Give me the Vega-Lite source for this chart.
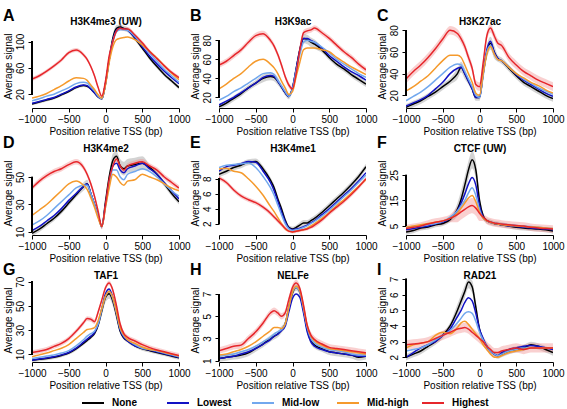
{
"$schema":"https://vega.github.io/schema/vega-lite/v6.json",
"padding":{"left":2,"top":8,"right":0,"bottom":0},
"bounds":"flush",
"config":{"view":{"stroke":null},"font":"Liberation Sans",
"axis":{"grid":false,"labelFontSize":10,"titleFontSize":10,"titleFontWeight":"normal","labelColor":"black","titleColor":"black","tickColor":"black","domainColor":"black","tickSize":4,"labelOverlap":false,"labelFlush":false},
"axisX":{"labelPadding":2,"titlePadding":2},
"axisY":{"labelAngle":-90,"labelAlign":"center","labelBaseline":"bottom","labelPadding":3,"titlePadding":2,"domain":false,"labelOverlap":false},
"title":{"anchor":"start","frame":"bounds","fontSize":16,"fontWeight":"bold","color":"black","offset":-8},
"legend":{"direction":"horizontal","title":null,"symbolType":"stroke","symbolSize":484,"symbolStrokeWidth":2,"labelFontSize":10,"labelFontWeight":"bold","labelColor":"black","labelOffset":7,"columns":5,"columnPadding":9,"gridAlign":"all","padding":0}},
"datasets":{"d":[
{"p":"A","x":-1000,"None":5,"Lowest":6,"Mid-low":10,"Mid-high":14,"Highest":43,"n0":3,"n1":7,"h0":40,"h1":46},
{"p":"A","x":-900,"None":8,"Lowest":9,"Mid-low":13,"Mid-high":17,"Highest":48,"n0":6,"n1":10,"h0":45,"h1":51},
{"p":"A","x":-800,"None":11,"Lowest":12,"Mid-low":17,"Mid-high":21,"Highest":55,"n0":9,"n1":13,"h0":52,"h1":58},
{"p":"A","x":-700,"None":14,"Lowest":15,"Mid-low":20,"Mid-high":27,"Highest":63,"n0":12,"n1":16,"h0":60,"h1":66},
{"p":"A","x":-600,"None":19,"Lowest":20,"Mid-low":25,"Mid-high":33,"Highest":72,"n0":17,"n1":21,"h0":69,"h1":75},
{"p":"A","x":-500,"None":24,"Lowest":25,"Mid-low":30,"Mid-high":40,"Highest":83,"n0":22,"n1":26,"h0":80,"h1":86},
{"p":"A","x":-400,"None":30,"Lowest":31,"Mid-low":36,"Mid-high":45,"Highest":87,"n0":28,"n1":32,"h0":84,"h1":90},
{"p":"A","x":-300,"None":33,"Lowest":34,"Mid-low":38,"Mid-high":44,"Highest":80,"n0":31,"n1":35,"h0":77,"h1":83},
{"p":"A","x":-250,"None":32,"Lowest":33,"Mid-low":37,"Mid-high":41,"Highest":73,"n0":30,"n1":34,"h0":70,"h1":76},
{"p":"A","x":-200,"None":28,"Lowest":28,"Mid-low":31,"Mid-high":34,"Highest":62,"n0":26,"n1":30,"h0":59,"h1":65},
{"p":"A","x":-150,"None":22,"Lowest":22,"Mid-low":25,"Mid-high":27,"Highest":48,"n0":20,"n1":24,"h0":45,"h1":51},
{"p":"A","x":-100,"None":16,"Lowest":16,"Mid-low":17,"Mid-high":19,"Highest":30,"n0":14,"n1":18,"h0":28,"h1":32},
{"p":"A","x":-50,"None":13,"Lowest":13,"Mid-low":13,"Mid-high":14,"Highest":17,"n0":11,"n1":15,"h0":15,"h1":19},
{"p":"A","x":0,"None":36,"Lowest":36,"Mid-low":36,"Mid-high":34,"Highest":40,"n0":34,"n1":38,"h0":38,"h1":42},
{"p":"A","x":50,"None":72,"Lowest":72,"Mid-low":72,"Mid-high":68,"Highest":78,"n0":70,"n1":74,"h0":75,"h1":81},
{"p":"A","x":100,"None":105,"Lowest":102,"Mid-low":100,"Mid-high":92,"Highest":100,"n0":100,"n1":110,"h0":97,"h1":103},
{"p":"A","x":150,"None":120,"Lowest":117,"Mid-low":115,"Mid-high":103,"Highest":116,"n0":115,"n1":125,"h0":113,"h1":119},
{"p":"A","x":200,"None":122,"Lowest":120,"Mid-low":118,"Mid-high":105,"Highest":120,"n0":118,"n1":126,"h0":117,"h1":123},
{"p":"A","x":250,"None":120,"Lowest":119,"Mid-low":118,"Mid-high":106,"Highest":119,"n0":116,"n1":124,"h0":116,"h1":122},
{"p":"A","x":300,"None":118,"Lowest":117,"Mid-low":117,"Mid-high":107,"Highest":119,"n0":114,"n1":122,"h0":116,"h1":122},
{"p":"A","x":400,"None":105,"Lowest":106,"Mid-low":108,"Mid-high":103,"Highest":110,"n0":101,"n1":109,"h0":107,"h1":113},
{"p":"A","x":500,"None":90,"Lowest":92,"Mid-low":95,"Mid-high":95,"Highest":98,"n0":87,"n1":93,"h0":95,"h1":101},
{"p":"A","x":600,"None":75,"Lowest":78,"Mid-low":82,"Mid-high":85,"Highest":85,"n0":72,"n1":78,"h0":82,"h1":88},
{"p":"A","x":700,"None":62,"Lowest":66,"Mid-low":70,"Mid-high":75,"Highest":74,"n0":59,"n1":65,"h0":71,"h1":77},
{"p":"A","x":800,"None":50,"Lowest":55,"Mid-low":58,"Mid-high":63,"Highest":63,"n0":47,"n1":53,"h0":60,"h1":66},
{"p":"A","x":900,"None":40,"Lowest":45,"Mid-low":48,"Mid-high":52,"Highest":53,"n0":37,"n1":43,"h0":50,"h1":56},
{"p":"A","x":1000,"None":30,"Lowest":36,"Mid-low":38,"Mid-high":42,"Highest":45,"n0":27,"n1":33,"h0":42,"h1":48},
{"p":"B","x":-1000,"None":10,"Lowest":12,"Mid-low":17,"Mid-high":29,"Highest":54,"n0":7,"n1":13,"h0":51,"h1":57},
{"p":"B","x":-900,"None":14,"Lowest":16,"Mid-low":21,"Mid-high":34,"Highest":58,"n0":11,"n1":17,"h0":55,"h1":61},
{"p":"B","x":-800,"None":19,"Lowest":20,"Mid-low":26,"Mid-high":40,"Highest":64,"n0":16,"n1":22,"h0":61,"h1":67},
{"p":"B","x":-700,"None":24,"Lowest":25,"Mid-low":30,"Mid-high":45,"Highest":70,"n0":21,"n1":27,"h0":67,"h1":73},
{"p":"B","x":-600,"None":30,"Lowest":30,"Mid-low":35,"Mid-high":52,"Highest":78,"n0":27,"n1":33,"h0":75,"h1":81},
{"p":"B","x":-500,"None":35,"Lowest":35,"Mid-low":40,"Mid-high":58,"Highest":85,"n0":32,"n1":38,"h0":82,"h1":88},
{"p":"B","x":-400,"None":40,"Lowest":41,"Mid-low":45,"Mid-high":60,"Highest":87,"n0":36,"n1":44,"h0":84,"h1":90},
{"p":"B","x":-300,"None":42,"Lowest":43,"Mid-low":46,"Mid-high":55,"Highest":80,"n0":38,"n1":46,"h0":77,"h1":83},
{"p":"B","x":-250,"None":41,"Lowest":42,"Mid-low":44,"Mid-high":51,"Highest":74,"n0":37,"n1":45,"h0":71,"h1":77},
{"p":"B","x":-200,"None":37,"Lowest":37,"Mid-low":38,"Mid-high":45,"Highest":65,"n0":33,"n1":41,"h0":62,"h1":68},
{"p":"B","x":-150,"None":31,"Lowest":31,"Mid-low":32,"Mid-high":37,"Highest":54,"n0":28,"n1":34,"h0":51,"h1":57},
{"p":"B","x":-100,"None":25,"Lowest":25,"Mid-low":26,"Mid-high":30,"Highest":42,"n0":22,"n1":28,"h0":39,"h1":45},
{"p":"B","x":-50,"None":21,"Lowest":21,"Mid-low":21,"Mid-high":23,"Highest":33,"n0":18,"n1":24,"h0":30,"h1":36},
{"p":"B","x":0,"None":30,"Lowest":30,"Mid-low":29,"Mid-high":26,"Highest":29,"n0":27,"n1":33,"h0":26,"h1":32},
{"p":"B","x":50,"None":50,"Lowest":50,"Mid-low":48,"Mid-high":42,"Highest":45,"n0":47,"n1":53,"h0":42,"h1":48},
{"p":"B","x":100,"None":70,"Lowest":70,"Mid-low":65,"Mid-high":57,"Highest":70,"n0":65,"n1":75,"h0":67,"h1":73},
{"p":"B","x":150,"None":82,"Lowest":82,"Mid-low":78,"Mid-high":70,"Highest":88,"n0":77,"n1":87,"h0":85,"h1":91},
{"p":"B","x":200,"None":81,"Lowest":82,"Mid-low":80,"Mid-high":72,"Highest":90,"n0":76,"n1":86,"h0":87,"h1":93},
{"p":"B","x":250,"None":78,"Lowest":80,"Mid-low":79,"Mid-high":72,"Highest":91,"n0":73,"n1":83,"h0":88,"h1":94},
{"p":"B","x":300,"None":76,"Lowest":78,"Mid-low":78,"Mid-high":72,"Highest":93,"n0":71,"n1":81,"h0":90,"h1":96},
{"p":"B","x":400,"None":70,"Lowest":72,"Mid-low":73,"Mid-high":70,"Highest":88,"n0":67,"n1":73,"h0":85,"h1":91},
{"p":"B","x":500,"None":62,"Lowest":64,"Mid-low":67,"Mid-high":68,"Highest":82,"n0":59,"n1":65,"h0":79,"h1":85},
{"p":"B","x":600,"None":55,"Lowest":58,"Mid-low":60,"Mid-high":62,"Highest":75,"n0":52,"n1":58,"h0":72,"h1":78},
{"p":"B","x":700,"None":50,"Lowest":52,"Mid-low":55,"Mid-high":57,"Highest":68,"n0":47,"n1":53,"h0":65,"h1":71},
{"p":"B","x":800,"None":44,"Lowest":47,"Mid-low":50,"Mid-high":52,"Highest":62,"n0":41,"n1":47,"h0":59,"h1":65},
{"p":"B","x":900,"None":39,"Lowest":43,"Mid-low":45,"Mid-high":48,"Highest":55,"n0":36,"n1":42,"h0":52,"h1":58},
{"p":"B","x":1000,"None":34,"Lowest":38,"Mid-low":41,"Mid-high":44,"Highest":49,"n0":31,"n1":37,"h0":46,"h1":52},
{"p":"C","x":-1000,"None":9,"Lowest":10,"Mid-low":15,"Mid-high":24,"Highest":35,"n0":6,"n1":12,"h0":31,"h1":39},
{"p":"C","x":-900,"None":12,"Lowest":13,"Mid-low":19,"Mid-high":28,"Highest":42,"n0":9,"n1":15,"h0":38,"h1":46},
{"p":"C","x":-800,"None":15,"Lowest":16,"Mid-low":23,"Mid-high":33,"Highest":48,"n0":12,"n1":18,"h0":44,"h1":52},
{"p":"C","x":-700,"None":19,"Lowest":20,"Mid-low":28,"Mid-high":38,"Highest":55,"n0":16,"n1":22,"h0":51,"h1":59},
{"p":"C","x":-600,"None":23,"Lowest":26,"Mid-low":34,"Mid-high":45,"Highest":63,"n0":20,"n1":26,"h0":59,"h1":67},
{"p":"C","x":-500,"None":28,"Lowest":32,"Mid-low":40,"Mid-high":52,"Highest":72,"n0":25,"n1":31,"h0":68,"h1":76},
{"p":"C","x":-400,"None":33,"Lowest":40,"Mid-low":46,"Mid-high":57,"Highest":80,"n0":30,"n1":36,"h0":76,"h1":84},
{"p":"C","x":-300,"None":40,"Lowest":45,"Mid-low":49,"Mid-high":57,"Highest":77,"n0":35,"n1":45,"h0":73,"h1":81},
{"p":"C","x":-250,"None":46,"Lowest":46,"Mid-low":48,"Mid-high":55,"Highest":72,"n0":41,"n1":51,"h0":68,"h1":76},
{"p":"C","x":-200,"None":40,"Lowest":40,"Mid-low":42,"Mid-high":48,"Highest":65,"n0":35,"n1":45,"h0":61,"h1":69},
{"p":"C","x":-150,"None":33,"Lowest":33,"Mid-low":35,"Mid-high":40,"Highest":55,"n0":30,"n1":36,"h0":51,"h1":59},
{"p":"C","x":-100,"None":26,"Lowest":26,"Mid-low":28,"Mid-high":32,"Highest":45,"n0":23,"n1":29,"h0":41,"h1":49},
{"p":"C","x":-50,"None":18,"Lowest":18,"Mid-low":20,"Mid-high":22,"Highest":30,"n0":15,"n1":21,"h0":26,"h1":34},
{"p":"C","x":0,"None":18,"Lowest":18,"Mid-low":18,"Mid-high":20,"Highest":28,"n0":15,"n1":21,"h0":24,"h1":32},
{"p":"C","x":50,"None":40,"Lowest":40,"Mid-low":38,"Mid-high":40,"Highest":50,"n0":37,"n1":43,"h0":46,"h1":54},
{"p":"C","x":100,"None":60,"Lowest":62,"Mid-low":60,"Mid-high":58,"Highest":75,"n0":54,"n1":66,"h0":71,"h1":79},
{"p":"C","x":150,"None":68,"Lowest":70,"Mid-low":66,"Mid-high":65,"Highest":82,"n0":62,"n1":74,"h0":78,"h1":85.5},
{"p":"C","x":200,"None":60,"Lowest":60,"Mid-low":58,"Mid-high":58,"Highest":75,"n0":54,"n1":66,"h0":71,"h1":79},
{"p":"C","x":250,"None":54,"Lowest":54,"Mid-low":53,"Mid-high":53,"Highest":68,"n0":51,"n1":57,"h0":64,"h1":72},
{"p":"C","x":300,"None":52,"Lowest":52,"Mid-low":52,"Mid-high":52,"Highest":66,"n0":49,"n1":55,"h0":62,"h1":70},
{"p":"C","x":400,"None":45,"Lowest":46,"Mid-low":46,"Mid-high":46,"Highest":55,"n0":42,"n1":48,"h0":51,"h1":59},
{"p":"C","x":500,"None":38,"Lowest":39,"Mid-low":40,"Mid-high":40,"Highest":48,"n0":35,"n1":41,"h0":44,"h1":52},
{"p":"C","x":600,"None":32,"Lowest":34,"Mid-low":35,"Mid-high":36,"Highest":42,"n0":29,"n1":35,"h0":38,"h1":46},
{"p":"C","x":700,"None":28,"Lowest":30,"Mid-low":31,"Mid-high":32,"Highest":38,"n0":25,"n1":31,"h0":34,"h1":42},
{"p":"C","x":800,"None":24,"Lowest":26,"Mid-low":27,"Mid-high":29,"Highest":34,"n0":21,"n1":27,"h0":30,"h1":38},
{"p":"C","x":900,"None":20,"Lowest":22,"Mid-low":24,"Mid-high":25,"Highest":31,"n0":17,"n1":23,"h0":27,"h1":35},
{"p":"C","x":1000,"None":17,"Lowest":19,"Mid-low":21,"Mid-high":22,"Highest":28,"n0":14,"n1":20,"h0":24,"h1":32},
{"p":"D","x":-1000,"None":9,"Lowest":11,"Mid-low":15,"Mid-high":22,"Highest":42,"n0":7,"n1":11,"h0":40,"h1":44},
{"p":"D","x":-900,"None":12,"Lowest":14,"Mid-low":18,"Mid-high":26,"Highest":47,"n0":10,"n1":14,"h0":45,"h1":49},
{"p":"D","x":-800,"None":16,"Lowest":18,"Mid-low":22,"Mid-high":30,"Highest":51,"n0":14,"n1":18,"h0":49,"h1":53},
{"p":"D","x":-700,"None":20,"Lowest":22,"Mid-low":27,"Mid-high":35,"Highest":54,"n0":18,"n1":22,"h0":52,"h1":56},
{"p":"D","x":-600,"None":25,"Lowest":27,"Mid-low":32,"Mid-high":40,"Highest":56,"n0":23,"n1":27,"h0":54,"h1":58},
{"p":"D","x":-500,"None":31,"Lowest":33,"Mid-low":37,"Mid-high":45,"Highest":59,"n0":29,"n1":33,"h0":57,"h1":61},
{"p":"D","x":-400,"None":37,"Lowest":38,"Mid-low":42,"Mid-high":47,"Highest":61,"n0":35,"n1":39,"h0":59,"h1":63},
{"p":"D","x":-300,"None":43,"Lowest":43,"Mid-low":44,"Mid-high":44,"Highest":57,"n0":40,"n1":46,"h0":55,"h1":59},
{"p":"D","x":-250,"None":45,"Lowest":45,"Mid-low":44,"Mid-high":41,"Highest":52,"n0":42,"n1":48,"h0":50,"h1":54},
{"p":"D","x":-200,"None":38,"Lowest":38,"Mid-low":38,"Mid-high":35,"Highest":45,"n0":36,"n1":40,"h0":43,"h1":47},
{"p":"D","x":-150,"None":30,"Lowest":30,"Mid-low":30,"Mid-high":28,"Highest":36,"n0":28,"n1":32,"h0":34,"h1":38},
{"p":"D","x":-100,"None":22,"Lowest":22,"Mid-low":22,"Mid-high":20,"Highest":25,"n0":20,"n1":24,"h0":23,"h1":27},
{"p":"D","x":-50,"None":14,"Lowest":14,"Mid-low":14,"Mid-high":14,"Highest":14,"n0":12,"n1":16,"h0":12,"h1":16},
{"p":"D","x":0,"None":32,"Lowest":30,"Mid-low":28,"Mid-high":28,"Highest":30,"n0":30,"n1":34,"h0":28,"h1":32},
{"p":"D","x":50,"None":50,"Lowest":46,"Mid-low":44,"Mid-high":42,"Highest":48,"n0":48,"n1":52,"h0":46,"h1":50},
{"p":"D","x":100,"None":62,"Lowest":58,"Mid-low":55,"Mid-high":52,"Highest":58,"n0":57,"n1":67,"h0":56,"h1":60},
{"p":"D","x":150,"None":65,"Lowest":60,"Mid-low":55,"Mid-high":50,"Highest":63,"n0":61,"n1":68.5,"h0":61,"h1":65},
{"p":"D","x":200,"None":58,"Lowest":55,"Mid-low":50,"Mid-high":46,"Highest":58,"n0":53,"n1":63,"h0":56,"h1":60},
{"p":"D","x":250,"None":56,"Lowest":53,"Mid-low":48,"Mid-high":44,"Highest":55,"n0":51,"n1":61,"h0":53,"h1":57},
{"p":"D","x":300,"None":58,"Lowest":56,"Mid-low":52,"Mid-high":47,"Highest":58,"n0":53,"n1":63,"h0":56,"h1":60},
{"p":"D","x":400,"None":59,"Lowest":58,"Mid-low":54,"Mid-high":48,"Highest":60,"n0":54,"n1":64,"h0":58,"h1":62},
{"p":"D","x":500,"None":60,"Lowest":60,"Mid-low":56,"Mid-high":52,"Highest":61,"n0":55,"n1":65,"h0":59,"h1":63},
{"p":"D","x":600,"None":57,"Lowest":56,"Mid-low":54,"Mid-high":50,"Highest":58,"n0":55,"n1":59,"h0":56,"h1":60},
{"p":"D","x":700,"None":52,"Lowest":52,"Mid-low":50,"Mid-high":48,"Highest":55,"n0":50,"n1":54,"h0":53,"h1":57},
{"p":"D","x":800,"None":45,"Lowest":46,"Mid-low":45,"Mid-high":45,"Highest":50,"n0":43,"n1":47,"h0":48,"h1":52},
{"p":"D","x":900,"None":38,"Lowest":40,"Mid-low":40,"Mid-high":42,"Highest":46,"n0":36,"n1":40,"h0":44,"h1":48},
{"p":"D","x":1000,"None":32,"Lowest":34,"Mid-low":36,"Mid-high":40,"Highest":42,"n0":30,"n1":34,"h0":40,"h1":44},
{"p":"E","x":-1000,"None":8.6,"Lowest":9.0,"Mid-low":9.5,"Mid-high":9.3,"Highest":8.1,"n0":8.2,"n1":9.0,"h0":7.8,"h1":8.4},
{"p":"E","x":-900,"None":9.0,"Lowest":9.6,"Mid-low":9.8,"Mid-high":9.4,"Highest":7.5,"n0":8.6,"n1":9.4,"h0":7.2,"h1":7.8},
{"p":"E","x":-800,"None":9.5,"Lowest":9.8,"Mid-low":9.9,"Mid-high":9.0,"Highest":6.5,"n0":9.1,"n1":9.9,"h0":6.2,"h1":6.8},
{"p":"E","x":-700,"None":9.8,"Lowest":10.0,"Mid-low":10.0,"Mid-high":8.8,"Highest":5.7,"n0":9.4,"n1":10.2,"h0":5.4,"h1":6.0},
{"p":"E","x":-600,"None":10.2,"Lowest":10.3,"Mid-low":10.1,"Mid-high":8.0,"Highest":5.2,"n0":9.8,"n1":10.6,"h0":4.9,"h1":5.5},
{"p":"E","x":-500,"None":10.3,"Lowest":10.2,"Mid-low":9.5,"Mid-high":7.0,"Highest":4.8,"n0":9.9,"n1":10.7,"h0":4.5,"h1":5.1},
{"p":"E","x":-400,"None":9.3,"Lowest":9.0,"Mid-low":8.3,"Mid-high":5.8,"Highest":4.2,"n0":8.9,"n1":9.7,"h0":3.9,"h1":4.5},
{"p":"E","x":-300,"None":7.8,"Lowest":7.5,"Mid-low":6.8,"Mid-high":4.3,"Highest":3.4,"n0":7.4,"n1":8.2,"h0":3.1,"h1":3.7},
{"p":"E","x":-250,"None":6.8,"Lowest":6.4,"Mid-low":5.8,"Mid-high":3.6,"Highest":2.9,"n0":6.4,"n1":7.2,"h0":2.6,"h1":3.2},
{"p":"E","x":-200,"None":5.3,"Lowest":5.0,"Mid-low":4.5,"Mid-high":2.8,"Highest":2.4,"n0":4.9,"n1":5.7,"h0":2.1,"h1":2.7},
{"p":"E","x":-150,"None":4.0,"Lowest":3.6,"Mid-low":3.2,"Mid-high":2.0,"Highest":1.9,"n0":3.6,"n1":4.4,"h0":1.6,"h1":2.2},
{"p":"E","x":-100,"None":2.5,"Lowest":2.3,"Mid-low":2.0,"Mid-high":1.3,"Highest":1.4,"n0":2.1,"n1":2.9,"h0":1.1,"h1":1.7},
{"p":"E","x":-50,"None":1.5,"Lowest":1.4,"Mid-low":1.3,"Mid-high":1.0,"Highest":1.0,"n0":1.2,"n1":1.8,"h0":0.8,"h1":1.2},
{"p":"E","x":0,"None":1.3,"Lowest":1.2,"Mid-low":1.1,"Mid-high":0.9,"Highest":0.9,"n0":1.0,"n1":1.6,"h0":0.7,"h1":1.1},
{"p":"E","x":50,"None":1.5,"Lowest":1.3,"Mid-low":1.2,"Mid-high":1.0,"Highest":1.0,"n0":1.2,"n1":1.8,"h0":0.8,"h1":1.2},
{"p":"E","x":100,"None":1.8,"Lowest":1.4,"Mid-low":1.3,"Mid-high":1.1,"Highest":1.1,"n0":1.4,"n1":2.2,"h0":0.9,"h1":1.3},
{"p":"E","x":150,"None":2.1,"Lowest":1.6,"Mid-low":1.5,"Mid-high":1.2,"Highest":1.2,"n0":1.7,"n1":2.5,"h0":1.0,"h1":1.4},
{"p":"E","x":200,"None":2.1,"Lowest":1.8,"Mid-low":1.7,"Mid-high":1.4,"Highest":1.3,"n0":1.7,"n1":2.5,"h0":1.1,"h1":1.5},
{"p":"E","x":250,"None":2.4,"Lowest":2.1,"Mid-low":2.0,"Mid-high":1.7,"Highest":1.5,"n0":2.0,"n1":2.8,"h0":1.3,"h1":1.7},
{"p":"E","x":300,"None":2.7,"Lowest":2.4,"Mid-low":2.3,"Mid-high":2.0,"Highest":1.8,"n0":2.3,"n1":3.1,"h0":1.5,"h1":2.1},
{"p":"E","x":400,"None":3.5,"Lowest":3.2,"Mid-low":3.0,"Mid-high":2.7,"Highest":2.5,"n0":3.1,"n1":3.9,"h0":2.2,"h1":2.8},
{"p":"E","x":500,"None":4.4,"Lowest":4.0,"Mid-low":3.8,"Mid-high":3.5,"Highest":3.4,"n0":4.0,"n1":4.8,"h0":3.1,"h1":3.7},
{"p":"E","x":600,"None":5.3,"Lowest":4.9,"Mid-low":4.7,"Mid-high":4.4,"Highest":4.2,"n0":4.9,"n1":5.7,"h0":3.9,"h1":4.5},
{"p":"E","x":700,"None":6.2,"Lowest":5.8,"Mid-low":5.6,"Mid-high":5.2,"Highest":5.0,"n0":5.8,"n1":6.6,"h0":4.7,"h1":5.3},
{"p":"E","x":800,"None":7.2,"Lowest":6.7,"Mid-low":6.5,"Mid-high":6.1,"Highest":5.9,"n0":6.8,"n1":7.6,"h0":5.6,"h1":6.2},
{"p":"E","x":900,"None":8.3,"Lowest":7.7,"Mid-low":7.5,"Mid-high":7.0,"Highest":6.9,"n0":7.9,"n1":8.7,"h0":6.6,"h1":7.2},
{"p":"E","x":1000,"None":9.6,"Lowest":8.8,"Mid-low":8.5,"Mid-high":7.9,"Highest":8.0,"n0":9.2,"n1":10.0,"h0":7.7,"h1":8.3},
{"p":"F","x":-1000,"None":2.6,"Lowest":3.5,"Mid-low":4.5,"Mid-high":4.5,"Highest":4.0,"n0":1.6,"n1":3.6,"h0":2.5,"h1":5.5},
{"p":"F","x":-900,"None":3.2,"Lowest":4.0,"Mid-low":4.8,"Mid-high":5.0,"Highest":4.5,"n0":2.2,"n1":4.2,"h0":3.0,"h1":6.0},
{"p":"F","x":-800,"None":4.2,"Lowest":4.5,"Mid-low":5.0,"Mid-high":5.5,"Highest":5.0,"n0":3.2,"n1":5.2,"h0":3.5,"h1":6.5},
{"p":"F","x":-700,"None":4.6,"Lowest":5.0,"Mid-low":5.5,"Mid-high":6.0,"Highest":5.8,"n0":3.6,"n1":5.6,"h0":4.3,"h1":7.3},
{"p":"F","x":-600,"None":5.5,"Lowest":5.8,"Mid-low":6.0,"Mid-high":6.5,"Highest":6.5,"n0":4.5,"n1":6.5,"h0":5.0,"h1":8.0},
{"p":"F","x":-500,"None":6.0,"Lowest":6.5,"Mid-low":6.8,"Mid-high":7.0,"Highest":7.0,"n0":5.0,"n1":7.0,"h0":5.5,"h1":8.5},
{"p":"F","x":-400,"None":7.5,"Lowest":8.0,"Mid-low":8.5,"Mid-high":8.0,"Highest":8.0,"n0":6.5,"n1":8.5,"h0":6.5,"h1":9.5},
{"p":"F","x":-300,"None":11.5,"Lowest":11.0,"Mid-low":11.0,"Mid-high":10.0,"Highest":9.5,"n0":9.0,"n1":14.0,"h0":6.5,"h1":12.5},
{"p":"F","x":-250,"None":15.5,"Lowest":14.0,"Mid-low":13.0,"Mid-high":12.0,"Highest":10.5,"n0":12.0,"n1":19.0,"h0":7.5,"h1":13.5},
{"p":"F","x":-200,"None":21.0,"Lowest":17.5,"Mid-low":15.0,"Mid-high":14.0,"Highest":11.5,"n0":17.5,"n1":24.5,"h0":8.5,"h1":14.5},
{"p":"F","x":-150,"None":27.0,"Lowest":21.5,"Mid-low":18.0,"Mid-high":16.0,"Highest":12.5,"n0":23.5,"n1":30.5,"h0":9.5,"h1":15.5},
{"p":"F","x":-100,"None":31.0,"Lowest":24.0,"Mid-low":20.0,"Mid-high":17.0,"Highest":13.0,"n0":27.5,"n1":34.3,"h0":10.0,"h1":16.0},
{"p":"F","x":-50,"None":27.0,"Lowest":21.0,"Mid-low":17.0,"Mid-high":14.5,"Highest":12.0,"n0":23.5,"n1":30.5,"h0":9.0,"h1":15.0},
{"p":"F","x":0,"None":15.0,"Lowest":13.0,"Mid-low":11.5,"Mid-high":10.5,"Highest":10.0,"n0":12.5,"n1":17.5,"h0":7.0,"h1":13.0},
{"p":"F","x":50,"None":9.0,"Lowest":8.5,"Mid-low":8.0,"Mid-high":8.0,"Highest":8.5,"n0":8.0,"n1":10.0,"h0":7.0,"h1":10.0},
{"p":"F","x":100,"None":7.0,"Lowest":7.0,"Mid-low":7.0,"Mid-high":7.0,"Highest":7.2,"n0":6.0,"n1":8.0,"h0":5.7,"h1":8.7},
{"p":"F","x":150,"None":6.5,"Lowest":6.5,"Mid-low":6.5,"Mid-high":6.5,"Highest":6.6,"n0":5.5,"n1":7.5,"h0":5.1,"h1":8.1},
{"p":"F","x":200,"None":6.0,"Lowest":6.0,"Mid-low":6.2,"Mid-high":6.0,"Highest":6.2,"n0":5.0,"n1":7.0,"h0":4.7,"h1":7.7},
{"p":"F","x":250,"None":5.8,"Lowest":5.8,"Mid-low":6.0,"Mid-high":5.8,"Highest":6.0,"n0":4.8,"n1":6.8,"h0":4.5,"h1":7.5},
{"p":"F","x":300,"None":5.5,"Lowest":5.5,"Mid-low":5.8,"Mid-high":5.5,"Highest":5.8,"n0":4.5,"n1":6.5,"h0":4.3,"h1":7.3},
{"p":"F","x":400,"None":5.0,"Lowest":5.0,"Mid-low":5.5,"Mid-high":5.2,"Highest":5.5,"n0":4.0,"n1":6.0,"h0":4.0,"h1":7.0},
{"p":"F","x":500,"None":4.5,"Lowest":4.8,"Mid-low":5.2,"Mid-high":5.0,"Highest":5.2,"n0":3.5,"n1":5.5,"h0":3.7,"h1":6.7},
{"p":"F","x":600,"None":4.2,"Lowest":4.5,"Mid-low":5.0,"Mid-high":4.8,"Highest":5.0,"n0":3.2,"n1":5.2,"h0":3.5,"h1":6.5},
{"p":"F","x":700,"None":4.0,"Lowest":4.2,"Mid-low":4.8,"Mid-high":4.6,"Highest":4.5,"n0":3.0,"n1":5.0,"h0":3.0,"h1":6.0},
{"p":"F","x":800,"None":3.8,"Lowest":4.0,"Mid-low":4.5,"Mid-high":4.5,"Highest":4.2,"n0":2.8,"n1":4.8,"h0":2.7,"h1":5.7},
{"p":"F","x":900,"None":3.5,"Lowest":3.8,"Mid-low":4.2,"Mid-high":4.2,"Highest":4.0,"n0":2.5,"n1":4.5,"h0":2.5,"h1":5.5},
{"p":"F","x":1000,"None":3.0,"Lowest":3.5,"Mid-low":4.0,"Mid-high":4.0,"Highest":3.8,"n0":2.0,"n1":4.0,"h0":2.3,"h1":5.3},
{"p":"G","x":-1000,"None":5,"Lowest":5,"Mid-low":6.5,"Mid-high":8,"Highest":11.4,"n0":3.5,"n1":6.5,"h0":9.4,"h1":13.4},
{"p":"G","x":-900,"None":5.8,"Lowest":6,"Mid-low":7.5,"Mid-high":9.5,"Highest":12.5,"n0":4.3,"n1":7.3,"h0":10.5,"h1":14.5},
{"p":"G","x":-800,"None":6.5,"Lowest":7,"Mid-low":8.5,"Mid-high":11,"Highest":14,"n0":5,"n1":8,"h0":12,"h1":16},
{"p":"G","x":-700,"None":7.5,"Lowest":8,"Mid-low":9.5,"Mid-high":13,"Highest":16.5,"n0":6,"n1":9,"h0":14.5,"h1":18.5},
{"p":"G","x":-600,"None":9,"Lowest":9.5,"Mid-low":11,"Mid-high":15,"Highest":19,"n0":7.5,"n1":10.5,"h0":17,"h1":21},
{"p":"G","x":-500,"None":11,"Lowest":11.5,"Mid-low":13,"Mid-high":18,"Highest":23,"n0":9.5,"n1":12.5,"h0":21,"h1":25},
{"p":"G","x":-400,"None":14.5,"Lowest":15,"Mid-low":17,"Mid-high":23,"Highest":29,"n0":13,"n1":16,"h0":27,"h1":31},
{"p":"G","x":-300,"None":19,"Lowest":20,"Mid-low":22,"Mid-high":28,"Highest":36,"n0":17.5,"n1":20.5,"h0":34,"h1":38},
{"p":"G","x":-250,"None":21.5,"Lowest":22.5,"Mid-low":25,"Mid-high":30.5,"Highest":39.5,"n0":20,"n1":23,"h0":37.5,"h1":41.5},
{"p":"G","x":-200,"None":24,"Lowest":25,"Mid-low":27,"Mid-high":31,"Highest":39,"n0":22.5,"n1":25.5,"h0":37,"h1":41},
{"p":"G","x":-150,"None":27,"Lowest":28,"Mid-low":29,"Mid-high":32,"Highest":37,"n0":25.5,"n1":28.5,"h0":35,"h1":39},
{"p":"G","x":-100,"None":34,"Lowest":35,"Mid-low":35,"Mid-high":38,"Highest":45,"n0":32,"n1":36,"h0":43,"h1":47},
{"p":"G","x":-50,"None":46,"Lowest":48,"Mid-low":47,"Mid-high":48,"Highest":55,"n0":42,"n1":50,"h0":53,"h1":57},
{"p":"G","x":0,"None":57,"Lowest":60,"Mid-low":58,"Mid-high":58,"Highest":65,"n0":53,"n1":61,"h0":63,"h1":67},
{"p":"G","x":50,"None":60,"Lowest":64,"Mid-low":62,"Mid-high":62,"Highest":69,"n0":56,"n1":64,"h0":67,"h1":71},
{"p":"G","x":100,"None":54,"Lowest":57,"Mid-low":56,"Mid-high":57,"Highest":63,"n0":50,"n1":58,"h0":61,"h1":65},
{"p":"G","x":150,"None":42,"Lowest":44,"Mid-low":44,"Mid-high":45,"Highest":50,"n0":38,"n1":46,"h0":48,"h1":52},
{"p":"G","x":200,"None":29,"Lowest":30,"Mid-low":31,"Mid-high":32,"Highest":35,"n0":27,"n1":31,"h0":33,"h1":37},
{"p":"G","x":250,"None":23.5,"Lowest":24,"Mid-low":25,"Mid-high":26,"Highest":27,"n0":22,"n1":25,"h0":25,"h1":29},
{"p":"G","x":300,"None":21,"Lowest":21,"Mid-low":22,"Mid-high":22,"Highest":24,"n0":19.5,"n1":22.5,"h0":22,"h1":26},
{"p":"G","x":400,"None":17,"Lowest":17,"Mid-low":18,"Mid-high":19,"Highest":21,"n0":15.5,"n1":18.5,"h0":19,"h1":23},
{"p":"G","x":500,"None":14.5,"Lowest":15,"Mid-low":15,"Mid-high":16,"Highest":18,"n0":13,"n1":16,"h0":16,"h1":20},
{"p":"G","x":600,"None":13,"Lowest":13.5,"Mid-low":14,"Mid-high":14,"Highest":15.5,"n0":11.5,"n1":14.5,"h0":13.5,"h1":17.5},
{"p":"G","x":700,"None":11.5,"Lowest":12,"Mid-low":12.5,"Mid-high":13,"Highest":13.5,"n0":10,"n1":13,"h0":11.5,"h1":15.5},
{"p":"G","x":800,"None":10,"Lowest":10.5,"Mid-low":11,"Mid-high":11.5,"Highest":12,"n0":8.5,"n1":11.5,"h0":10,"h1":14},
{"p":"G","x":900,"None":8.5,"Lowest":9,"Mid-low":9.5,"Mid-high":10,"Highest":10.5,"n0":7,"n1":10,"h0":8.5,"h1":12.5},
{"p":"G","x":1000,"None":7,"Lowest":7.5,"Mid-low":8,"Mid-high":8.5,"Highest":9,"n0":5.5,"n1":8.5,"h0":7,"h1":11},
{"p":"H","x":-1000,"None":1.2,"Lowest":1.2,"Mid-low":1.4,"Mid-high":1.5,"Highest":1.9,"n0":0.9,"n1":1.5,"h0":1.6,"h1":2.2},
{"p":"H","x":-900,"None":1.3,"Lowest":1.3,"Mid-low":1.5,"Mid-high":1.6,"Highest":2.1,"n0":1.0,"n1":1.6,"h0":1.8,"h1":2.4},
{"p":"H","x":-800,"None":1.4,"Lowest":1.4,"Mid-low":1.6,"Mid-high":1.8,"Highest":2.3,"n0":1.1,"n1":1.7,"h0":2.0,"h1":2.6},
{"p":"H","x":-700,"None":1.5,"Lowest":1.6,"Mid-low":1.8,"Mid-high":2.0,"Highest":2.4,"n0":1.2,"n1":1.8,"h0":2.1,"h1":2.7},
{"p":"H","x":-600,"None":1.7,"Lowest":1.8,"Mid-low":2.0,"Mid-high":2.3,"Highest":3.0,"n0":1.4,"n1":2.0,"h0":2.7,"h1":3.3},
{"p":"H","x":-500,"None":2.1,"Lowest":2.1,"Mid-low":2.3,"Mid-high":2.7,"Highest":3.6,"n0":1.8,"n1":2.4,"h0":3.3,"h1":3.9},
{"p":"H","x":-400,"None":2.5,"Lowest":2.5,"Mid-low":2.7,"Mid-high":3.2,"Highest":4.4,"n0":2.2,"n1":2.8,"h0":4.1,"h1":4.7},
{"p":"H","x":-300,"None":3.0,"Lowest":2.9,"Mid-low":3.1,"Mid-high":3.7,"Highest":5.3,"n0":2.7,"n1":3.3,"h0":5.0,"h1":5.6},
{"p":"H","x":-250,"None":3.2,"Lowest":3.2,"Mid-low":3.4,"Mid-high":4.0,"Highest":5.5,"n0":2.9,"n1":3.5,"h0":5.2,"h1":5.8},
{"p":"H","x":-200,"None":3.4,"Lowest":3.4,"Mid-low":3.6,"Mid-high":4.0,"Highest":5.3,"n0":3.1,"n1":3.7,"h0":5.0,"h1":5.6},
{"p":"H","x":-150,"None":3.8,"Lowest":3.7,"Mid-low":3.8,"Mid-high":3.9,"Highest":5.0,"n0":3.5,"n1":4.1,"h0":4.7,"h1":5.3},
{"p":"H","x":-100,"None":4.3,"Lowest":4.1,"Mid-low":4.3,"Mid-high":4.3,"Highest":5.3,"n0":4.0,"n1":4.6,"h0":5.0,"h1":5.6},
{"p":"H","x":-50,"None":5.8,"Lowest":5.4,"Mid-low":5.8,"Mid-high":5.8,"Highest":6.5,"n0":5.5,"n1":6.1,"h0":6.2,"h1":6.8},
{"p":"H","x":0,"None":7.1,"Lowest":6.6,"Mid-low":7.2,"Mid-high":7.2,"Highest":7.6,"n0":6.8,"n1":7.4,"h0":7.3,"h1":7.9},
{"p":"H","x":50,"None":7.6,"Lowest":7.0,"Mid-low":7.6,"Mid-high":7.7,"Highest":8.0,"n0":7.3,"n1":7.9,"h0":7.7,"h1":8.3},
{"p":"H","x":100,"None":7.2,"Lowest":6.7,"Mid-low":7.2,"Mid-high":7.3,"Highest":7.5,"n0":6.9,"n1":7.5,"h0":7.2,"h1":7.8},
{"p":"H","x":150,"None":5.6,"Lowest":5.3,"Mid-low":5.7,"Mid-high":5.8,"Highest":6.0,"n0":5.3,"n1":5.9,"h0":5.7,"h1":6.3},
{"p":"H","x":200,"None":3.8,"Lowest":3.6,"Mid-low":4.0,"Mid-high":4.1,"Highest":4.2,"n0":3.5,"n1":4.1,"h0":3.9,"h1":4.5},
{"p":"H","x":250,"None":2.8,"Lowest":2.7,"Mid-low":3.0,"Mid-high":3.2,"Highest":3.3,"n0":2.5,"n1":3.1,"h0":3.0,"h1":3.6},
{"p":"H","x":300,"None":2.4,"Lowest":2.3,"Mid-low":2.6,"Mid-high":2.8,"Highest":2.9,"n0":2.1,"n1":2.7,"h0":2.6,"h1":3.2},
{"p":"H","x":400,"None":2.1,"Lowest":2.0,"Mid-low":2.2,"Mid-high":2.4,"Highest":2.5,"n0":1.8,"n1":2.4,"h0":2.2,"h1":2.8},
{"p":"H","x":500,"None":1.8,"Lowest":1.8,"Mid-low":2.0,"Mid-high":2.1,"Highest":2.2,"n0":1.5,"n1":2.1,"h0":1.9,"h1":2.5},
{"p":"H","x":600,"None":1.7,"Lowest":1.7,"Mid-low":1.9,"Mid-high":2.0,"Highest":2.1,"n0":1.4,"n1":2.0,"h0":1.8,"h1":2.4},
{"p":"H","x":700,"None":1.6,"Lowest":1.6,"Mid-low":1.8,"Mid-high":1.9,"Highest":2.0,"n0":1.3,"n1":1.9,"h0":1.7,"h1":2.3},
{"p":"H","x":800,"None":1.5,"Lowest":1.5,"Mid-low":1.6,"Mid-high":1.8,"Highest":1.9,"n0":1.2,"n1":1.8,"h0":1.6,"h1":2.2},
{"p":"H","x":900,"None":1.3,"Lowest":1.4,"Mid-low":1.5,"Mid-high":1.7,"Highest":1.8,"n0":1.0,"n1":1.6,"h0":1.5,"h1":2.1},
{"p":"H","x":1000,"None":1.4,"Lowest":1.4,"Mid-low":1.5,"Mid-high":1.6,"Highest":1.7,"n0":1.1,"n1":1.7,"h0":1.4,"h1":2.0},
{"p":"I","x":-1000,"None":2.0,"Lowest":2.0,"Mid-low":2.4,"Mid-high":2.6,"Highest":2.8,"n0":1.8,"n1":2.2,"h0":2.5,"h1":3.1},
{"p":"I","x":-900,"None":2.2,"Lowest":2.3,"Mid-low":2.5,"Mid-high":2.8,"Highest":2.85,"n0":2.0,"n1":2.4,"h0":2.55,"h1":3.15},
{"p":"I","x":-800,"None":2.4,"Lowest":2.6,"Mid-low":2.6,"Mid-high":2.9,"Highest":2.9,"n0":2.2,"n1":2.6,"h0":2.6,"h1":3.2},
{"p":"I","x":-700,"None":2.7,"Lowest":2.8,"Mid-low":2.8,"Mid-high":3.0,"Highest":3.0,"n0":2.5,"n1":2.9,"h0":2.7,"h1":3.3},
{"p":"I","x":-600,"None":3.0,"Lowest":3.0,"Mid-low":3.1,"Mid-high":3.4,"Highest":3.2,"n0":2.8,"n1":3.2,"h0":2.9,"h1":3.5},
{"p":"I","x":-500,"None":3.4,"Lowest":3.4,"Mid-low":3.4,"Mid-high":3.6,"Highest":3.4,"n0":3.2,"n1":3.6,"h0":3.1,"h1":3.7},
{"p":"I","x":-400,"None":4.0,"Lowest":3.8,"Mid-low":3.7,"Mid-high":3.5,"Highest":3.6,"n0":3.8,"n1":4.2,"h0":3.3,"h1":3.9},
{"p":"I","x":-300,"None":5.0,"Lowest":4.6,"Mid-low":4.2,"Mid-high":3.9,"Highest":3.8,"n0":4.6,"n1":5.4,"h0":3.5,"h1":4.1},
{"p":"I","x":-250,"None":5.6,"Lowest":5.0,"Mid-low":4.5,"Mid-high":4.2,"Highest":3.85,"n0":5.2,"n1":6.0,"h0":3.55,"h1":4.15},
{"p":"I","x":-200,"None":6.2,"Lowest":5.5,"Mid-low":4.8,"Mid-high":4.3,"Highest":3.9,"n0":5.8,"n1":6.6,"h0":3.6,"h1":4.2},
{"p":"I","x":-150,"None":6.8,"Lowest":5.8,"Mid-low":4.9,"Mid-high":4.1,"Highest":3.8,"n0":6.4,"n1":7.05,"h0":3.5,"h1":4.1},
{"p":"I","x":-100,"None":6.5,"Lowest":5.6,"Mid-low":4.8,"Mid-high":3.8,"Highest":3.6,"n0":6.1,"n1":6.9,"h0":3.3,"h1":3.9},
{"p":"I","x":-50,"None":5.2,"Lowest":4.8,"Mid-low":4.3,"Mid-high":3.5,"Highest":3.4,"n0":4.8,"n1":5.6,"h0":3.1,"h1":3.7},
{"p":"I","x":0,"None":3.8,"Lowest":3.8,"Mid-low":3.6,"Mid-high":3.2,"Highest":3.2,"n0":3.6,"n1":4.0,"h0":2.9,"h1":3.5},
{"p":"I","x":50,"None":3.1,"Lowest":3.2,"Mid-low":3.1,"Mid-high":2.8,"Highest":3.0,"n0":2.9,"n1":3.3,"h0":2.7,"h1":3.3},
{"p":"I","x":100,"None":2.7,"Lowest":2.7,"Mid-low":2.7,"Mid-high":2.5,"Highest":2.7,"n0":2.5,"n1":2.9,"h0":2.4,"h1":3.0},
{"p":"I","x":150,"None":2.4,"Lowest":2.4,"Mid-low":2.4,"Mid-high":2.2,"Highest":2.5,"n0":2.2,"n1":2.6,"h0":2.2,"h1":2.8},
{"p":"I","x":200,"None":2.2,"Lowest":2.2,"Mid-low":2.2,"Mid-high":2.0,"Highest":2.3,"n0":2.0,"n1":2.4,"h0":2.0,"h1":2.6},
{"p":"I","x":250,"None":2.1,"Lowest":2.1,"Mid-low":2.1,"Mid-high":2.0,"Highest":2.3,"n0":1.9,"n1":2.3,"h0":2.0,"h1":2.6},
{"p":"I","x":300,"None":2.2,"Lowest":2.3,"Mid-low":2.2,"Mid-high":2.1,"Highest":2.4,"n0":2.0,"n1":2.4,"h0":2.1,"h1":2.7},
{"p":"I","x":400,"None":2.4,"Lowest":2.5,"Mid-low":2.4,"Mid-high":2.3,"Highest":2.5,"n0":2.2,"n1":2.6,"h0":2.2,"h1":2.8},
{"p":"I","x":500,"None":2.5,"Lowest":2.6,"Mid-low":2.5,"Mid-high":2.4,"Highest":2.6,"n0":2.3,"n1":2.7,"h0":2.3,"h1":2.9},
{"p":"I","x":600,"None":2.6,"Lowest":2.7,"Mid-low":2.6,"Mid-high":2.5,"Highest":2.5,"n0":2.4,"n1":2.8,"h0":2.2,"h1":2.8},
{"p":"I","x":700,"None":2.8,"Lowest":2.75,"Mid-low":2.6,"Mid-high":2.6,"Highest":2.6,"n0":2.6,"n1":3.0,"h0":2.3,"h1":2.9},
{"p":"I","x":800,"None":2.7,"Lowest":2.7,"Mid-low":2.6,"Mid-high":2.6,"Highest":2.6,"n0":2.5,"n1":2.9,"h0":2.3,"h1":2.9},
{"p":"I","x":900,"None":2.5,"Lowest":2.6,"Mid-low":2.6,"Mid-high":2.6,"Highest":2.6,"n0":2.3,"n1":2.7,"h0":2.3,"h1":2.9},
{"p":"I","x":1000,"None":2.3,"Lowest":2.5,"Mid-low":2.6,"Mid-high":2.6,"Highest":2.6,"n0":2.1,"n1":2.5,"h0":2.3,"h1":2.9}
]},
"concat":[
{"width":147,"height":84,"title":"A","data":{"name":"d"},"transform":[{"filter":"datum.p==='A'"}],"resolve":{"axis":{"x":"independent"}},"layer":[
{"mark":{"type":"area","color":"#b5b5b5","opacity":0.6,"interpolate":"monotone","clip":true},"encoding":{"x":{"field":"x","type":"quantitative","scale":{"domain":[-1000,1000],"nice":false},"axis":{"orient":"bottom","values":[-1000,-500,0,500,1000],"format":"d","title":"Position relative TSS (bp)"}},"y":{"field":"n0","type":"quantitative","scale":{"domain":[-1,126.6],"nice":false,"zero":false},"axis":{"values":[20,60,100],"title":"Average signal","labelOverlap":false}},"y2":{"field":"n1"}}},
{"mark":{"type":"area","color":"#f08a8a","opacity":0.4,"interpolate":"monotone","clip":true},"encoding":{"x":{"field":"x","type":"quantitative","axis":{"orient":"top","title":"H3K4me3 (UW)","labels":false,"ticks":false,"domain":false,"titleFontWeight":"bold","titlePadding":-2}},"y":{"field":"h0","type":"quantitative","axis":{"values":[20,60,100],"title":"Average signal","labelOverlap":false}},"y2":{"field":"h1"}}},
{"transform":[{"fold":["None","Lowest","Mid-low","Mid-high","Highest"],"as":["s","v"]}],"mark":{"type":"line","strokeWidth":1.5,"interpolate":"monotone","clip":true},"encoding":{"x":{"field":"x","type":"quantitative","axis":null},"y":{"field":"v","type":"quantitative","axis":{"values":[20,60,100],"title":"Average signal","labelOverlap":false}},"color":{"field":"s","type":"nominal","scale":{"domain":["None","Lowest","Mid-low","Mid-high","Highest"],"range":["#000000","#1212c4","#72a8ee","#f59a2c","#e6262b"]},"legend":{"orient":"none","legendX":49,"legendY":367,"direction":"horizontal","title":null,"columns":5}}}},
{"mark":{"type":"rule","color":"black"},"encoding":{"x":{"datum":-1000,"type":"quantitative","axis":null},"y":{"datum":20,"type":"quantitative","axis":{"values":[20,60,100],"title":"Average signal","labelOverlap":false}},"y2":{"datum":100}}}]},
{"width":147,"height":84,"title":"B","data":{"name":"d"},"transform":[{"filter":"datum.p==='B'"}],"resolve":{"axis":{"x":"independent"}},"layer":[
{"mark":{"type":"area","color":"#b5b5b5","opacity":0.6,"interpolate":"monotone","clip":true},"encoding":{"x":{"field":"x","type":"quantitative","scale":{"domain":[-1000,1000],"nice":false},"axis":{"orient":"bottom","values":[-1000,-500,0,500,1000],"format":"d","title":"Position relative TSS (bp)"}},"y":{"field":"n0","type":"quantitative","scale":{"domain":[8.8,97.2],"nice":false,"zero":false},"axis":{"values":[20,40,60,80],"title":"Average signal","labelOverlap":false}},"y2":{"field":"n1"}}},
{"mark":{"type":"area","color":"#f08a8a","opacity":0.4,"interpolate":"monotone","clip":true},"encoding":{"x":{"field":"x","type":"quantitative","axis":{"orient":"top","title":"H3K9ac","labels":false,"ticks":false,"domain":false,"titleFontWeight":"bold","titlePadding":-2}},"y":{"field":"h0","type":"quantitative","axis":{"values":[20,40,60,80],"title":"Average signal","labelOverlap":false}},"y2":{"field":"h1"}}},
{"transform":[{"fold":["None","Lowest","Mid-low","Mid-high","Highest"],"as":["s","v"]}],"mark":{"type":"line","strokeWidth":1.5,"interpolate":"monotone","clip":true},"encoding":{"x":{"field":"x","type":"quantitative","axis":null},"y":{"field":"v","type":"quantitative","axis":{"values":[20,40,60,80],"title":"Average signal","labelOverlap":false}},"color":{"field":"s","type":"nominal","scale":{"domain":["None","Lowest","Mid-low","Mid-high","Highest"],"range":["#000000","#1212c4","#72a8ee","#f59a2c","#e6262b"]}}}},
{"mark":{"type":"rule","color":"black"},"encoding":{"x":{"datum":-1000,"type":"quantitative","axis":null},"y":{"datum":20,"type":"quantitative","axis":{"values":[20,40,60,80],"title":"Average signal","labelOverlap":false}},"y2":{"datum":80}}}]},
{"width":147,"height":84,"title":"C","data":{"name":"d"},"transform":[{"filter":"datum.p==='C'"}],"resolve":{"axis":{"x":"independent"}},"layer":[
{"mark":{"type":"area","color":"#b5b5b5","opacity":0.6,"interpolate":"monotone","clip":true},"encoding":{"x":{"field":"x","type":"quantitative","scale":{"domain":[-1000,1000],"nice":false},"axis":{"orient":"bottom","values":[-1000,-500,0,500,1000],"format":"d","title":"Position relative TSS (bp)"}},"y":{"field":"n0","type":"quantitative","scale":{"domain":[8.3,85.8],"nice":false,"zero":false},"axis":{"values":[20,40,60,80],"title":"Average signal","labelOverlap":false}},"y2":{"field":"n1"}}},
{"mark":{"type":"area","color":"#f08a8a","opacity":0.4,"interpolate":"monotone","clip":true},"encoding":{"x":{"field":"x","type":"quantitative","axis":{"orient":"top","title":"H3K27ac","labels":false,"ticks":false,"domain":false,"titleFontWeight":"bold","titlePadding":-2}},"y":{"field":"h0","type":"quantitative","axis":{"values":[20,40,60,80],"title":"Average signal","labelOverlap":false}},"y2":{"field":"h1"}}},
{"transform":[{"fold":["None","Lowest","Mid-low","Mid-high","Highest"],"as":["s","v"]}],"mark":{"type":"line","strokeWidth":1.5,"interpolate":"monotone","clip":true},"encoding":{"x":{"field":"x","type":"quantitative","axis":null},"y":{"field":"v","type":"quantitative","axis":{"values":[20,40,60,80],"title":"Average signal","labelOverlap":false}},"color":{"field":"s","type":"nominal","scale":{"domain":["None","Lowest","Mid-low","Mid-high","Highest"],"range":["#000000","#1212c4","#72a8ee","#f59a2c","#e6262b"]}}}},
{"mark":{"type":"rule","color":"black"},"encoding":{"x":{"datum":-1000,"type":"quantitative","axis":null},"y":{"datum":20,"type":"quantitative","axis":{"values":[20,40,60,80],"title":"Average signal","labelOverlap":false}},"y2":{"datum":80}}}]},
{"width":147,"height":84,"title":"D","data":{"name":"d"},"transform":[{"filter":"datum.p==='D'"}],"resolve":{"axis":{"x":"independent"}},"layer":[
{"mark":{"type":"area","color":"#b5b5b5","opacity":0.6,"interpolate":"monotone","clip":true},"encoding":{"x":{"field":"x","type":"quantitative","scale":{"domain":[-1000,1000],"nice":false},"axis":{"orient":"bottom","values":[-1000,-500,0,500,1000],"format":"d","title":"Position relative TSS (bp)"}},"y":{"field":"n0","type":"quantitative","scale":{"domain":[7.8,68.9],"nice":false,"zero":false},"axis":{"values":[10,30,50],"title":"Average signal","labelOverlap":false}},"y2":{"field":"n1"}}},
{"mark":{"type":"area","color":"#f08a8a","opacity":0.4,"interpolate":"monotone","clip":true},"encoding":{"x":{"field":"x","type":"quantitative","axis":{"orient":"top","title":"H3K4me2","labels":false,"ticks":false,"domain":false,"titleFontWeight":"bold","titlePadding":-2}},"y":{"field":"h0","type":"quantitative","axis":{"values":[10,30,50],"title":"Average signal","labelOverlap":false}},"y2":{"field":"h1"}}},
{"transform":[{"fold":["None","Lowest","Mid-low","Mid-high","Highest"],"as":["s","v"]}],"mark":{"type":"line","strokeWidth":1.5,"interpolate":"monotone","clip":true},"encoding":{"x":{"field":"x","type":"quantitative","axis":null},"y":{"field":"v","type":"quantitative","axis":{"values":[10,30,50],"title":"Average signal","labelOverlap":false}},"color":{"field":"s","type":"nominal","scale":{"domain":["None","Lowest","Mid-low","Mid-high","Highest"],"range":["#000000","#1212c4","#72a8ee","#f59a2c","#e6262b"]}}}},
{"mark":{"type":"rule","color":"black"},"encoding":{"x":{"datum":-1000,"type":"quantitative","axis":null},"y":{"datum":10,"type":"quantitative","axis":{"values":[10,30,50],"title":"Average signal","labelOverlap":false}},"y2":{"datum":50}}}]},
{"width":147,"height":84,"title":"E","data":{"name":"d"},"transform":[{"filter":"datum.p==='E'"}],"resolve":{"axis":{"x":"independent"}},"layer":[
{"mark":{"type":"area","color":"#b5b5b5","opacity":0.6,"interpolate":"monotone","clip":true},"encoding":{"x":{"field":"x","type":"quantitative","scale":{"domain":[-1000,1000],"nice":false},"axis":{"orient":"bottom","values":[-1000,-500,0,500,1000],"format":"d","title":"Position relative TSS (bp)"}},"y":{"field":"n0","type":"quantitative","scale":{"domain":[0.49,11.7],"nice":false,"zero":false},"axis":{"values":[2,4,6,8],"title":"Average signal","labelOverlap":false}},"y2":{"field":"n1"}}},
{"mark":{"type":"area","color":"#f08a8a","opacity":0.4,"interpolate":"monotone","clip":true},"encoding":{"x":{"field":"x","type":"quantitative","axis":{"orient":"top","title":"H3K4me1","labels":false,"ticks":false,"domain":false,"titleFontWeight":"bold","titlePadding":-2}},"y":{"field":"h0","type":"quantitative","axis":{"values":[2,4,6,8],"title":"Average signal","labelOverlap":false}},"y2":{"field":"h1"}}},
{"transform":[{"fold":["None","Lowest","Mid-low","Mid-high","Highest"],"as":["s","v"]}],"mark":{"type":"line","strokeWidth":1.5,"interpolate":"monotone","clip":true},"encoding":{"x":{"field":"x","type":"quantitative","axis":null},"y":{"field":"v","type":"quantitative","axis":{"values":[2,4,6,8],"title":"Average signal","labelOverlap":false}},"color":{"field":"s","type":"nominal","scale":{"domain":["None","Lowest","Mid-low","Mid-high","Highest"],"range":["#000000","#1212c4","#72a8ee","#f59a2c","#e6262b"]}}}},
{"mark":{"type":"rule","color":"black"},"encoding":{"x":{"datum":-1000,"type":"quantitative","axis":null},"y":{"datum":2,"type":"quantitative","axis":{"values":[2,4,6,8],"title":"Average signal","labelOverlap":false}},"y2":{"datum":8}}}]},
{"width":147,"height":84,"title":"F","data":{"name":"d"},"transform":[{"filter":"datum.p==='F'"}],"resolve":{"axis":{"x":"independent"}},"layer":[
{"mark":{"type":"area","color":"#b5b5b5","opacity":0.6,"interpolate":"monotone","clip":true},"encoding":{"x":{"field":"x","type":"quantitative","scale":{"domain":[-1000,1000],"nice":false},"axis":{"orient":"bottom","values":[-1000,-500,0,500,1000],"format":"d","title":"Position relative TSS (bp)"}},"y":{"field":"n0","type":"quantitative","scale":{"domain":[1.47,34.4],"nice":false,"zero":false},"axis":{"values":[5,15,25],"title":"Average signal","labelOverlap":false}},"y2":{"field":"n1"}}},
{"mark":{"type":"area","color":"#f08a8a","opacity":0.4,"interpolate":"monotone","clip":true},"encoding":{"x":{"field":"x","type":"quantitative","axis":{"orient":"top","title":"CTCF (UW)","labels":false,"ticks":false,"domain":false,"titleFontWeight":"bold","titlePadding":-2}},"y":{"field":"h0","type":"quantitative","axis":{"values":[5,15,25],"title":"Average signal","labelOverlap":false}},"y2":{"field":"h1"}}},
{"transform":[{"fold":["None","Lowest","Mid-low","Mid-high","Highest"],"as":["s","v"]}],"mark":{"type":"line","strokeWidth":1.5,"interpolate":"monotone","clip":true},"encoding":{"x":{"field":"x","type":"quantitative","axis":null},"y":{"field":"v","type":"quantitative","axis":{"values":[5,15,25],"title":"Average signal","labelOverlap":false}},"color":{"field":"s","type":"nominal","scale":{"domain":["None","Lowest","Mid-low","Mid-high","Highest"],"range":["#000000","#1212c4","#72a8ee","#f59a2c","#e6262b"]}}}},
{"mark":{"type":"rule","color":"black"},"encoding":{"x":{"datum":-1000,"type":"quantitative","axis":null},"y":{"datum":5,"type":"quantitative","axis":{"values":[5,15,25],"title":"Average signal","labelOverlap":false}},"y2":{"datum":25}}}]},
{"width":147,"height":84,"title":"G","data":{"name":"d"},"transform":[{"filter":"datum.p==='G'"}],"resolve":{"axis":{"x":"independent"}},"layer":[
{"mark":{"type":"area","color":"#b5b5b5","opacity":0.6,"interpolate":"monotone","clip":true},"encoding":{"x":{"field":"x","type":"quantitative","scale":{"domain":[-1000,1000],"nice":false},"axis":{"orient":"bottom","values":[-1000,-500,0,500,1000],"format":"d","title":"Position relative TSS (bp)"}},"y":{"field":"n0","type":"quantitative","scale":{"domain":[3.6,73.1],"nice":false,"zero":false},"axis":{"values":[10,30,50,70],"title":"Average signal","labelOverlap":false}},"y2":{"field":"n1"}}},
{"mark":{"type":"area","color":"#f08a8a","opacity":0.4,"interpolate":"monotone","clip":true},"encoding":{"x":{"field":"x","type":"quantitative","axis":{"orient":"top","title":"TAF1","labels":false,"ticks":false,"domain":false,"titleFontWeight":"bold","titlePadding":-2}},"y":{"field":"h0","type":"quantitative","axis":{"values":[10,30,50,70],"title":"Average signal","labelOverlap":false}},"y2":{"field":"h1"}}},
{"transform":[{"fold":["None","Lowest","Mid-low","Mid-high","Highest"],"as":["s","v"]}],"mark":{"type":"line","strokeWidth":1.5,"interpolate":"monotone","clip":true},"encoding":{"x":{"field":"x","type":"quantitative","axis":null},"y":{"field":"v","type":"quantitative","axis":{"values":[10,30,50,70],"title":"Average signal","labelOverlap":false}},"color":{"field":"s","type":"nominal","scale":{"domain":["None","Lowest","Mid-low","Mid-high","Highest"],"range":["#000000","#1212c4","#72a8ee","#f59a2c","#e6262b"]}}}},
{"mark":{"type":"rule","color":"black"},"encoding":{"x":{"datum":-1000,"type":"quantitative","axis":null},"y":{"datum":10,"type":"quantitative","axis":{"values":[10,30,50,70],"title":"Average signal","labelOverlap":false}},"y2":{"datum":70}}}]},
{"width":147,"height":84,"title":"H","data":{"name":"d"},"transform":[{"filter":"datum.p==='H'"}],"resolve":{"axis":{"x":"independent"}},"layer":[
{"mark":{"type":"area","color":"#b5b5b5","opacity":0.6,"interpolate":"monotone","clip":true},"encoding":{"x":{"field":"x","type":"quantitative","scale":{"domain":[-1000,1000],"nice":false},"axis":{"orient":"bottom","values":[-1000,-500,0,500,1000],"format":"d","title":"Position relative TSS (bp)"}},"y":{"field":"n0","type":"quantitative","scale":{"domain":[0.88,8.45],"nice":false,"zero":false},"axis":{"values":[1,3,5,7],"title":"Average signal","labelOverlap":false}},"y2":{"field":"n1"}}},
{"mark":{"type":"area","color":"#f08a8a","opacity":0.4,"interpolate":"monotone","clip":true},"encoding":{"x":{"field":"x","type":"quantitative","axis":{"orient":"top","title":"NELFe","labels":false,"ticks":false,"domain":false,"titleFontWeight":"bold","titlePadding":-2}},"y":{"field":"h0","type":"quantitative","axis":{"values":[1,3,5,7],"title":"Average signal","labelOverlap":false}},"y2":{"field":"h1"}}},
{"transform":[{"fold":["None","Lowest","Mid-low","Mid-high","Highest"],"as":["s","v"]}],"mark":{"type":"line","strokeWidth":1.5,"interpolate":"monotone","clip":true},"encoding":{"x":{"field":"x","type":"quantitative","axis":null},"y":{"field":"v","type":"quantitative","axis":{"values":[1,3,5,7],"title":"Average signal","labelOverlap":false}},"color":{"field":"s","type":"nominal","scale":{"domain":["None","Lowest","Mid-low","Mid-high","Highest"],"range":["#000000","#1212c4","#72a8ee","#f59a2c","#e6262b"]}}}},
{"mark":{"type":"rule","color":"black"},"encoding":{"x":{"datum":-1000,"type":"quantitative","axis":null},"y":{"datum":1,"type":"quantitative","axis":{"values":[1,3,5,7],"title":"Average signal","labelOverlap":false}},"y2":{"datum":7}}}]},
{"width":147,"height":84,"title":"I","data":{"name":"d"},"transform":[{"filter":"datum.p==='I'"}],"resolve":{"axis":{"x":"independent"}},"layer":[
{"mark":{"type":"area","color":"#b5b5b5","opacity":0.6,"interpolate":"monotone","clip":true},"encoding":{"x":{"field":"x","type":"quantitative","scale":{"domain":[-1000,1000],"nice":false},"axis":{"orient":"bottom","values":[-1000,-500,0,500,1000],"format":"d","title":"Position relative TSS (bp)"}},"y":{"field":"n0","type":"quantitative","scale":{"domain":[1.7,7.06],"nice":false,"zero":false},"axis":{"values":[2,3,4,5,6,7],"title":"Average signal","labelOverlap":false}},"y2":{"field":"n1"}}},
{"mark":{"type":"area","color":"#f08a8a","opacity":0.4,"interpolate":"monotone","clip":true},"encoding":{"x":{"field":"x","type":"quantitative","axis":{"orient":"top","title":"RAD21","labels":false,"ticks":false,"domain":false,"titleFontWeight":"bold","titlePadding":-2}},"y":{"field":"h0","type":"quantitative","axis":{"values":[2,3,4,5,6,7],"title":"Average signal","labelOverlap":false}},"y2":{"field":"h1"}}},
{"transform":[{"fold":["None","Lowest","Mid-low","Mid-high","Highest"],"as":["s","v"]}],"mark":{"type":"line","strokeWidth":1.5,"interpolate":"monotone","clip":true},"encoding":{"x":{"field":"x","type":"quantitative","axis":null},"y":{"field":"v","type":"quantitative","axis":{"values":[2,3,4,5,6,7],"title":"Average signal","labelOverlap":false}},"color":{"field":"s","type":"nominal","scale":{"domain":["None","Lowest","Mid-low","Mid-high","Highest"],"range":["#000000","#1212c4","#72a8ee","#f59a2c","#e6262b"]}}}},
{"mark":{"type":"rule","color":"black"},"encoding":{"x":{"datum":-1000,"type":"quantitative","axis":null},"y":{"datum":2,"type":"quantitative","axis":{"values":[2,3,4,5,6,7],"title":"Average signal","labelOverlap":false}},"y2":{"datum":7}}}]}
],
"columns":3,
"spacing":{"row":43,"column":40}
}
